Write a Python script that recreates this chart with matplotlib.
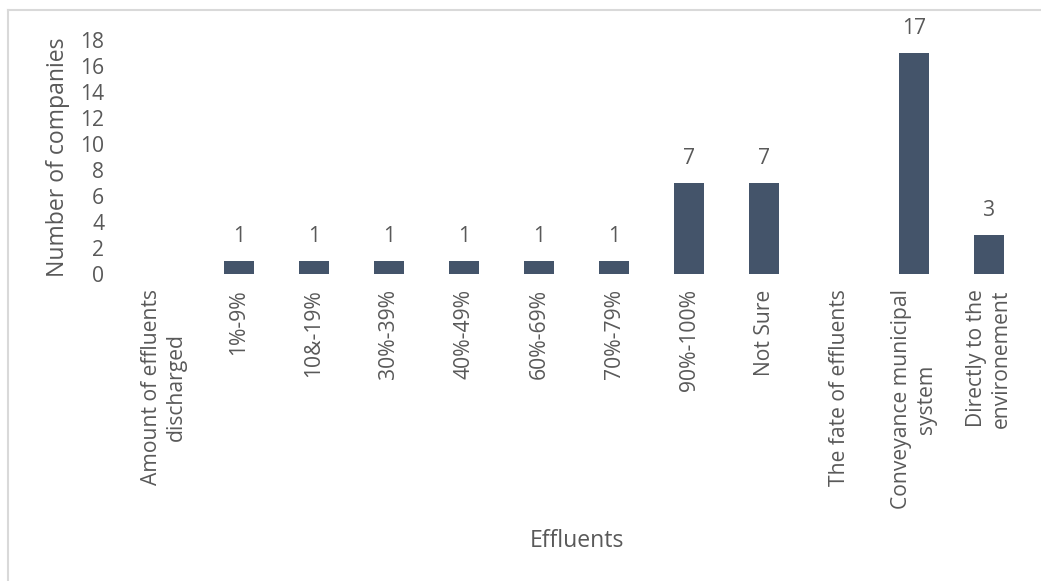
import matplotlib
matplotlib.use('Agg')
import matplotlib.pyplot as plt
from matplotlib.lines import Line2D

# categories along the x axis (group headers carry no bar)
categories = [
    'Amount of effluents\ndischarged', '1%-9%', '10&-19%', '30%-39%', '40%-49%',
    '60%-69%', '70%-79%', '90%-100%', 'Not Sure', 'The fate of effluents',
    'Conveyance municipal\nsystem', 'Directly to the\nenvironement',
]
counts = [None, 1, 1, 1, 1, 1, 1, 7, 7, None, 17, 3]
y_ticks = [0, 2, 4, 6, 8, 10, 12, 14, 16, 18]

bar_color = '#44546A'
text_color = '#595959'
tick_fs = 15.2
title_fs = 16.6

plt.rcParams['font.family'] = ['Open Sans', 'DejaVu Sans']

fig = plt.figure(figsize=(10.41, 5.81), dpi=100)
ax = fig.add_axes([0.1215, 0.5284, 0.8646, 0.4028])

xs = list(range(len(categories)))
for x, v in zip(xs, counts):
    if v is None:
        continue
    ax.bar(x, v, width=0.41, color=bar_color)
    ax.text(x, v + 1.1, str(v), ha='center', va='bottom',
            fontsize=tick_fs, color=text_color)

ax.set_xlim(-0.5, len(categories) - 0.5)
ax.set_ylim(0, 18)
ax.set_yticks(y_ticks)
ax.set_yticklabels([str(t) for t in y_ticks], fontsize=tick_fs, color=text_color)
ax.set_xticks(xs)
ax.set_xticklabels(categories, rotation=90, fontsize=tick_fs, color=text_color,
                   ha='center', va='top', multialignment='center')
ax.tick_params(axis='both', length=0)
ax.tick_params(axis='x', pad=11)
ax.tick_params(axis='y', pad=16)

for s in ax.spines.values():
    s.set_visible(False)

ax.set_ylabel('Number of companies', fontsize=title_fs, color=text_color)
ax.set_xlabel('Effluents', fontsize=title_fs, color=text_color)
ax.yaxis.set_label_coords(-0.063, 0.5)
ax.xaxis.set_label_coords(0.5, -1.09)

# light chart-area border (top and left edges)
W, H = 1041, 581
fig.add_artist(Line2D([7.5 / W, 7.5 / W], [0, 1 - 9.5 / H],
                      transform=fig.transFigure, color='#D9D9D9', lw=1.5))
fig.add_artist(Line2D([7.5 / W, 1], [1 - 9.5 / H, 1 - 9.5 / H],
                      transform=fig.transFigure, color='#D9D9D9', lw=1.5))

fig.savefig('out.png', dpi=100)
